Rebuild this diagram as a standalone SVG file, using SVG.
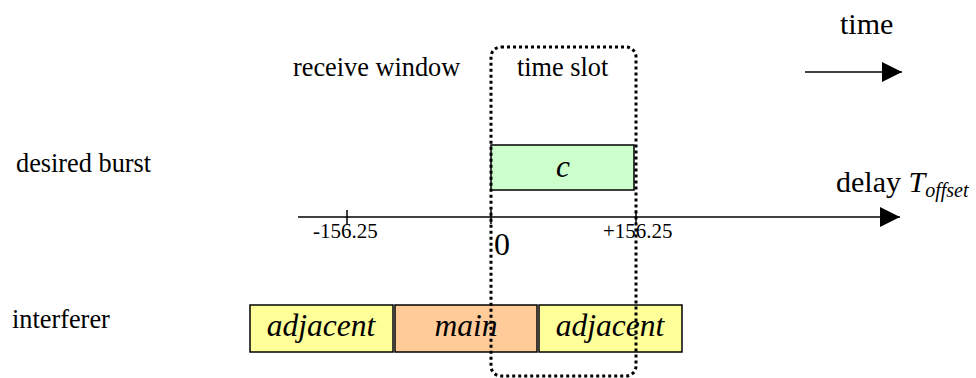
<svg xmlns="http://www.w3.org/2000/svg" width="976" height="378" viewBox="0 0 976 378">
<defs>
<marker id="ah" markerWidth="20" markerHeight="20" refX="20" refY="10" orient="auto" markerUnits="userSpaceOnUse">
<path d="M0,0 L20,10 L0,20 Z" fill="#000"/>
</marker>
<style>
text{font-family:"Liberation Serif","Times New Roman",serif;fill:#000}
.lbl{font-size:26.3px}
.big{font-size:30px}
.num{font-size:21px}
.it{font-style:italic;font-size:31.5px}
.box{stroke:#000;stroke-width:1.5}
.ax{stroke:#000;stroke-width:1.5;fill:none}
</style>
</defs>
<rect width="976" height="378" fill="#fff"/>
<text class="big" x="840" y="34">time</text>
<text class="lbl" x="293" y="76">receive window</text>
<text class="lbl" x="517" y="76">time slot</text>
<text class="lbl" x="16" y="172">desired burst</text>
<text class="lbl" x="12" y="328">interferer</text>
<text class="big" x="836" y="192">delay <tspan font-style="italic">T</tspan><tspan font-style="italic" font-size="20px" dy="5">offset</tspan></text>
<g id="connectors">
<line class="ax" x1="805" y1="72" x2="902" y2="72" marker-end="url(#ah)"/>
<line class="ax" x1="298" y1="217" x2="900" y2="217" marker-end="url(#ah)"/>
<line class="ax" x1="347" y1="210" x2="347" y2="224"/>
<line class="ax" x1="491" y1="210" x2="491" y2="224"/>
<line class="ax" x1="636" y1="210" x2="636" y2="224"/>
</g>
<text class="num" x="313" y="238">-156.25</text>
<text class="num" x="603" y="238">+156.25</text>
<text x="494" y="255" font-size="32px">0</text>
<g id="desired">
<rect class="box" x="491" y="145" width="143" height="45" fill="#ccffcc"/>
<text class="it" x="563" y="177" text-anchor="middle">c</text>
</g>
<g id="adjacent1">
<rect class="box" x="250" y="305" width="143" height="47" fill="#ffff99"/>
<text class="it" x="321" y="336" text-anchor="middle">adjacent</text>
</g>
<g id="main">
<rect class="box" x="395" y="305" width="142" height="47" fill="#ffcc99"/>
<text class="it" x="466" y="336" text-anchor="middle">main</text>
</g>
<g id="adjacent2">
<rect class="box" x="539" y="305" width="143" height="47" fill="#ffff99"/>
<text class="it" x="610" y="336" text-anchor="middle">adjacent</text>
</g>
<g id="timeslot">
<rect x="491" y="47" width="145" height="329" rx="10" ry="10" fill="none" stroke="#000" stroke-width="3" stroke-dasharray="3 3"/>
</g>
</svg>
